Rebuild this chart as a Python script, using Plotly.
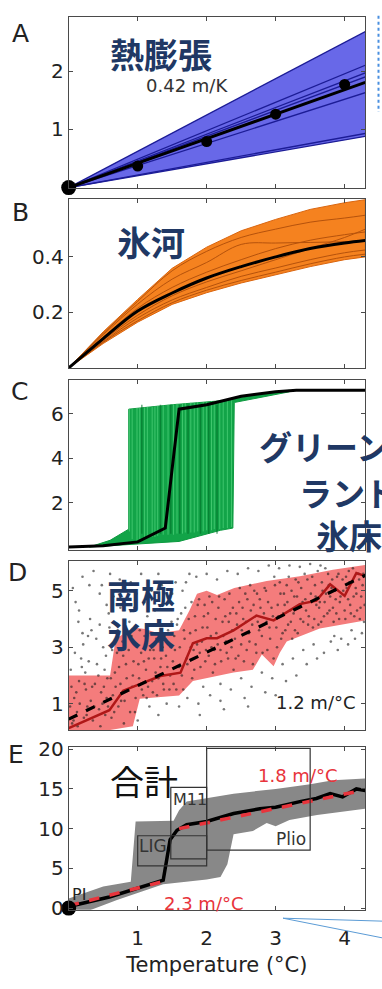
import plotly.graph_objects as go

W, H = 382, 989
NUM_FONT = "DejaVu Sans, Liberation Sans, Arial, sans-serif"
CJK_FONT = "Noto Sans CJK JP, sans-serif"
NAVY = "#203864"

# ---------------- data ----------------
temp_ticks = [1, 2, 3, 4]
x_end = 4.3

# A: thermal expansion
thermal_band_upper = [0.0, 2.68]
thermal_band_lower = [0.0, 0.88]
thermal_band_x = [0.0, 4.3]
thermal_member_end = [2.68, 2.10, 1.97, 1.90, 1.63, 0.93, 0.88]
thermal_mean_x = [0.0, 4.3]
thermal_mean_y = [0.0, 1.806]
thermal_dot_x = [1, 2, 3, 4]
thermal_dot_y = [0.37, 0.79, 1.26, 1.77]

# B: glaciers
glac_x = [0, 0.5, 1.0, 1.5, 2.0, 2.5, 3.0, 3.5, 4.0, 4.3]
glac_upper = [0, 0.13, 0.247, 0.359, 0.435, 0.494, 0.535, 0.571, 0.595, 0.606]
glac_lower = [0, 0.088, 0.165, 0.229, 0.271, 0.306, 0.335, 0.365, 0.39, 0.40]
glac_mean = [0, 0.106, 0.205, 0.27, 0.324, 0.365, 0.40, 0.43, 0.45, 0.459]
glac_m1 = [0, 0.125, 0.24, 0.35, 0.42, 0.47, 0.50, 0.525, 0.54, 0.55]
glac_m2 = [0, 0.12, 0.23, 0.32, 0.38, 0.445, 0.45, 0.452, 0.455, 0.457]
glac_m3 = [0, 0.10, 0.19, 0.26, 0.31, 0.35, 0.39, 0.43, 0.47, 0.50]
glac_m4 = [0, 0.095, 0.18, 0.245, 0.29, 0.33, 0.36, 0.39, 0.415, 0.425]
glac_m5 = [0, 0.11, 0.215, 0.29, 0.345, 0.39, 0.43, 0.46, 0.48, 0.49]
glac_m6 = [0, 0.092, 0.17, 0.235, 0.28, 0.315, 0.345, 0.375, 0.40, 0.41]

# C: Greenland
gis_env_x = [0.30, 0.60, 0.87, 0.87, 1.50, 2.30, 2.80, 3.20, 3.20, 2.40, 2.38, 2.20, 1.60, 1.00, 0.30]
gis_env_y = [0.00, 0.30, 0.80, 6.20, 6.40, 6.60, 6.90, 7.05, 6.98, 6.50, 0.85, 0.75, 0.25, 0.12, 0.00]
gis_jump_t = [0.88, 0.92, 0.99, 1.03, 1.10, 1.14, 1.21, 1.25, 1.29, 1.37, 1.44, 1.52, 1.57,
              1.65, 1.69, 1.77, 1.82, 1.87, 1.95, 2.00, 2.07, 2.11, 2.19, 2.24, 2.30, 2.36]
gis_jump_lo = [0.70, 0.35, 0.30, 0.35, 0.40, 0.40, 0.45, 0.45, 0.50, 0.55, 0.55, 0.55, 0.60,
               0.60, 0.65, 0.65, 0.65, 0.70, 0.70, 0.75, 0.75, 0.80, 0.80, 0.85, 0.85, 0.90]
gis_jump_hi = [6.20, 6.22, 6.25, 6.25, 6.28, 6.30, 6.30, 6.33, 6.35, 6.38, 6.40, 6.42, 6.45,
               6.45, 6.48, 6.50, 6.50, 6.52, 6.52, 6.55, 6.55, 6.55, 6.58, 6.58, 6.60, 6.60]
gis_dark_t = [1.06, 1.33, 1.48, 1.61, 1.73, 1.91, 2.03, 2.15]
gis_mean_x = [0, 0.5, 1.0, 1.4, 1.6, 2.0, 2.5, 3.0, 3.3, 4.3]
gis_mean_y = [0, 0.06, 0.23, 0.85, 6.2, 6.4, 6.78, 6.98, 7.05, 7.05]

# D: Antarctica
ais_upper_x = [0, 0.6, 0.68, 0.95, 1.1, 1.3, 1.6, 1.75, 1.86, 2.0, 2.15, 2.4, 2.87, 3.35, 3.83, 4.3]
ais_upper_y = [2.0, 2.0, 3.3, 3.7, 3.65, 3.5, 3.6, 4.3, 4.9, 5.0, 4.85, 5.1, 5.35, 5.52, 5.75, 5.92]
ais_lower_x = [0, 0.6, 0.93, 1.03, 1.6, 1.8, 2.39, 2.67, 2.8, 2.97, 3.06, 3.16, 3.64, 4.3]
ais_lower_y = [0.07, 0.07, 0.2, 1.17, 1.29, 1.8, 2.1, 2.2, 2.74, 2.33, 2.8, 3.2, 3.66, 3.95]
ais_mean_x = [0, 0.59, 0.79, 1.05, 1.33, 1.62, 1.8, 2.0, 2.15, 2.39, 2.72, 2.97, 3.35, 3.59, 3.79, 4.0, 4.17, 4.3]
ais_mean_y = [0.13, 0.77, 1.46, 1.7, 1.98, 2.1, 3.14, 3.32, 3.32, 3.6, 4.12, 3.95, 4.53, 4.65, 5.23, 4.82, 5.63, 5.52]
ais_fit_x = [0.0, 4.3]
ais_fit_y = [0.45, 5.55]
ais_dots_x = [
    0.05, 0.08, 0.12, 0.15, 0.18, 0.22, 0.25, 0.28, 0.10, 0.20, 0.03, 0.27, 0.14, 0.06, 0.24,
    0.32, 0.35, 0.38, 0.41, 0.44, 0.47, 0.50, 0.53, 0.56, 0.58, 0.36, 0.45, 0.52, 0.33, 0.55,
    0.62, 0.64, 0.67, 0.70, 0.72, 0.75, 0.78, 0.80, 0.83, 0.86, 0.88, 0.65, 0.74, 0.85, 0.69, 0.81,
    0.92, 0.94, 0.96, 0.99, 1.02, 1.05, 1.08, 1.10, 1.12, 1.15, 1.18, 0.95, 1.05, 1.14, 1.00, 1.17,
    1.22, 1.24, 1.27, 1.30, 1.33, 1.36, 1.38, 1.41, 1.44, 1.47, 1.25, 1.35, 1.45, 1.30, 1.42, 1.49,
    1.52, 1.54, 1.57, 1.60, 1.63, 1.66, 1.68, 1.71, 1.74, 1.77, 1.79, 1.55, 1.65, 1.75, 1.60, 1.72,
    1.82, 1.84, 1.87, 1.90, 1.93, 1.96, 1.98, 2.01, 2.04, 2.07, 2.09, 1.85, 2.00, 1.95, 2.05, 1.88,
    2.12, 2.14, 2.17, 2.20, 2.23, 2.26, 2.28, 2.31, 2.34, 2.37, 2.39, 2.15, 2.30, 2.20, 2.35, 2.25,
    2.42, 2.44, 2.47, 2.50, 2.53, 2.56, 2.58, 2.61, 2.64, 2.67, 2.69, 2.45, 2.60, 2.50, 2.65, 2.55,
    2.72, 2.74, 2.77, 2.80, 2.83, 2.86, 2.88, 2.91, 2.94, 2.97, 2.99, 2.75, 2.90, 2.80, 2.95, 2.85,
    3.02, 3.04, 3.07, 3.10, 3.13, 3.16, 3.18, 3.21, 3.24, 3.27, 3.29, 3.05, 3.20, 3.10, 3.25, 3.15,
    3.32, 3.34, 3.37, 3.40, 3.43, 3.46, 3.48, 3.51, 3.54, 3.57, 3.59, 3.35, 3.50, 3.40, 3.55, 3.45,
    3.62, 3.64, 3.67, 3.70, 3.73, 3.76, 3.78, 3.81, 3.84, 3.87, 3.89, 3.65, 3.80, 3.70, 3.85,
    3.92, 3.94, 3.97, 4.00, 4.03, 4.06, 4.08, 4.11, 4.14, 4.17, 4.20, 4.23, 4.26, 4.28, 3.95, 4.10, 4.25,
    0.02, 0.04, 0.07, 0.09, 0.11, 0.13, 0.16, 0.19, 0.21, 0.23, 0.26, 0.29, 0.31, 0.34, 0.37, 0.40, 0.43, 0.46, 0.48, 0.49,
    0.51, 0.54, 0.57, 0.59, 0.61, 0.63, 0.66, 0.68, 0.71, 0.73, 0.76, 0.79, 0.82, 0.84, 0.87, 0.89, 0.91, 0.93, 0.97, 0.98,
    1.01, 1.03, 1.06, 1.09, 1.11, 1.13, 1.16, 1.19, 1.21, 1.23, 1.26, 1.28, 1.31, 1.34, 1.37, 1.39, 1.43, 1.46, 1.48, 1.20,
    1.51, 1.53, 1.56, 1.58, 1.61, 1.64, 1.67, 1.69, 1.72, 1.76, 1.78, 1.81, 1.83, 1.86, 1.89, 1.91, 1.94, 1.97, 1.99, 1.70,
    2.02, 2.03, 2.06, 2.08, 2.11, 2.13, 2.16, 2.18, 2.21, 2.24, 2.27, 2.29, 2.32, 2.33, 2.36, 2.38, 2.41, 2.43, 2.46, 2.48,
    2.51, 2.52, 2.54, 2.57, 2.59, 2.62, 2.63, 2.66, 2.68, 2.71, 2.73, 2.76, 2.78, 2.81, 2.84, 2.87, 2.89, 2.92, 2.96, 2.98,
    3.01, 3.03, 3.06, 3.08, 3.11, 3.12, 3.14, 3.17, 3.19, 3.22, 3.23, 3.26, 3.28, 3.31, 3.33, 3.36, 3.39, 3.42, 3.44, 3.47,
    3.52, 3.53, 3.56, 3.58, 3.61, 3.63, 3.66, 3.68, 3.71, 3.72, 3.75, 3.77, 3.79, 3.82, 3.83, 3.86, 3.88, 3.91, 3.93, 3.98,
    4.01, 4.02, 4.05, 4.07, 4.09, 4.12, 4.13, 4.16, 4.18, 4.21, 4.22, 4.24, 4.27, 4.29, 4.15, 4.05,
    2.60, 3.00, 3.30, 3.60, 3.90, 2.20, 1.90,
    0.15, 0.30, 0.45, 0.60, 0.75, 0.90, 1.10, 1.30, 1.50, 0.20, 0.55,
]
ais_dots_y = [
    0.3, 1.2, 0.7, 1.8, 2.6, 0.5, 1.5, 3.4, 4.6, 5.5, 2.2, 0.9, 3.9, 5.1, 2.1,
    1.1, 0.4, 1.7, 2.4, 0.8, 1.4, 3.0, 0.6, 1.9, 4.2, 5.7, 4.9, 2.2, 3.6, 1.2,
    0.5, 1.3, 2.1, 2.8, 0.9, 1.7, 3.2, 0.3, 2.4, 1.5, 3.9, 4.8, 5.4, 5.0, 3.5, 1.1,
    1.6, 2.5, 0.7, 3.1, 1.9, 2.8, 1.3, 3.4, 2.2, 1.6, 2.9, 4.4, 5.6, 4.1, 0.4, 0.9,
    1.4, 2.6, 3.3, 1.9, 2.3, 3.0, 1.5, 2.7, 3.6, 2.0, 4.3, 5.2, 4.6, 0.6, 1.0, 3.9,
    1.7, 2.9, 3.8, 2.3, 4.2, 1.5, 3.3, 2.6, 4.0, 3.0, 1.9, 5.3, 5.0, 5.6, 0.9, 1.2,
    2.2, 3.6, 4.5, 2.8, 3.2, 4.1, 2.5, 3.7, 4.8, 3.0, 2.1, 5.5, 5.6, 1.6, 1.3, 1.0,
    2.4, 3.5, 4.4, 2.9, 3.9, 4.7, 3.2, 2.6, 4.2, 3.6, 2.2, 5.4, 5.7, 1.7, 1.5, 0.8,
    2.6, 3.8, 4.6, 3.1, 4.0, 4.9, 2.9, 3.5, 4.3, 2.4, 5.0, 5.6, 5.8, 1.9, 1.6, 1.2,
    2.8, 3.9, 4.7, 3.4, 4.2, 5.0, 2.9, 3.7, 4.4, 2.6, 5.2, 5.7, 5.9, 2.1, 1.9, 1.4,
    3.0, 4.1, 4.9, 3.5, 4.5, 5.2, 3.8, 4.3, 3.3, 4.8, 5.4, 5.8, 5.9, 2.4, 2.6, 1.8,
    3.5, 4.4, 5.1, 3.9, 4.7, 5.4, 4.1, 4.9, 3.7, 5.2, 4.5, 5.85, 5.95, 2.9, 3.1, 2.4,
    3.8, 4.6, 5.3, 4.1, 4.9, 5.6, 4.3, 5.1, 3.9, 4.7, 5.5, 5.9, 3.2, 2.8, 3.4,
    4.0, 4.8, 5.4, 4.3, 5.1, 5.7, 4.5, 5.3, 4.1, 4.9, 5.6, 4.4, 5.2, 3.9, 3.3, 3.6, 3.5,
    0.9, 1.6, 0.4, 2.8, 1.4, 0.2, 1.0, 2.3, 3.1, 1.7, 0.6, 2.5, 4.0, 1.6, 0.9, 3.3, 2.0, 0.2, 5.2, 1.0,
    1.6, 2.7, 0.9, 3.7, 1.9, 2.9, 0.7, 1.6, 3.6, 2.3, 1.1, 2.7, 3.5, 1.9, 2.9, 0.7, 3.4, 2.0, 1.2, 4.9,
    2.4, 3.6, 1.5, 2.5, 3.1, 1.2, 2.6, 3.5, 1.8, 2.9, 2.1, 1.3, 3.2, 2.6, 1.7, 3.4, 2.3, 1.5, 3.0, 5.0,
    2.5, 3.4, 1.5, 4.0, 3.0, 2.0, 3.6, 4.4, 2.4, 3.5, 4.6, 2.9, 4.1, 3.1, 4.7, 2.3, 3.7, 4.5, 2.9, 5.3,
    4.2, 2.7, 3.4, 4.6, 2.9, 4.0, 3.1, 4.8, 2.5, 3.4, 4.1, 2.8, 3.9, 4.9, 3.0, 4.4, 3.3, 4.2, 2.7, 5.1,
    3.6, 4.4, 2.5, 3.9, 4.7, 3.2, 5.2, 3.8, 4.5, 3.1, 4.9, 3.6, 4.4, 2.8, 5.1, 3.9, 4.6, 3.3, 4.1, 5.5,
    3.7, 4.5, 5.3, 3.3, 4.2, 4.9, 3.6, 4.6, 5.5, 3.9, 5.0, 4.2, 3.6, 4.8, 5.3, 4.0, 4.6, 5.6, 4.3, 3.8,
    4.6, 5.5, 4.0, 4.8, 5.7, 4.4, 3.9, 5.0, 4.6, 5.8, 4.2, 5.2, 4.8, 5.4, 4.4, 5.0, 4.2, 5.6, 4.6, 5.0,
    4.0, 5.5, 4.7, 5.3, 4.2, 5.8, 4.8, 5.1, 4.3, 5.4, 4.0, 4.8, 5.6, 4.5, 3.3, 3.1,
    0.9, 1.3, 2.0, 2.6, 2.9, 1.1, 0.6,
    4.3, 5.2, 3.8, 5.6, 4.4, 5.3, 4.6, 5.6, 4.9, 3.5, 4.5,
]

# E: total
sum_upper_x = [0, 0.5, 0.9, 0.97, 1.52, 1.6, 1.71, 2.0, 2.39, 3.0, 3.5, 3.83, 4.3]
sum_upper_y = [1.2, 2.7, 3.3, 10.9, 11.0, 12.3, 13.4, 13.8, 14.4, 15.0, 15.6, 16.1, 16.3]
sum_lower_x = [4.3, 3.6, 3.2, 3.0, 2.87, 2.67, 2.39, 2.3, 2.2, 2.0, 1.37, 0.7, 0.3, 0]
sum_lower_y = [12.5, 11.7, 11.1, 10.3, 10.7, 9.7, 9.3, 5.5, 3.9, 3.6, 3.0, 1.0, -0.3, -0.3]
sum_mean_x = [0, 0.59, 1.37, 1.47, 1.57, 1.71, 2.0, 2.39, 2.77, 3.0, 3.35, 3.59, 3.79, 3.97, 4.17, 4.3]
sum_mean_y = [0.2, 1.4, 3.5, 8.6, 9.8, 10.5, 10.9, 11.9, 12.5, 12.7, 13.4, 13.8, 14.4, 14.0, 15.0, 14.8]
sum_fit1_x = [0.0, 1.35]
sum_fit1_y = [0.3, 3.3]
sum_fit2_x = [1.6, 4.25]
sum_fit2_y = [10.0, 14.8]
box_names = ["M11", "LIG", "Plio"]
box_x0 = [1.48, 1.0, 2.0]
box_x1 = [2.0, 2.0, 3.5]
box_y0 = [6.2, 5.3, 7.3]
box_y1 = [15.2, 9.1, 20.1]

# ---------------- layout helpers ----------------
def px(x):
    return x / W

def py(y):
    return 1 - y / H

xdom = [px(68.7), px(365)]
panels = [
    # (top px, bottom px, y-range, tickvals, ticktext)
    (8.3, 182.7, [-0.01, 2.926], [1, 2], ["1", "2"]),
    (193.3, 366.0, [0, 0.61], [0.2, 0.4], ["0.2", "0.4"]),
    (378.3, 551.7, [-0.14, 7.51], [2, 4, 6], ["2", "4", "6"]),
    (563.3, 735.0, [0.07, 6.04], [1, 3, 5], ["1", "3", "5"]),
    (752.0, 918.3, [-0.2, 20.33], [0, 5, 10, 15, 20], ["0", "5", "10", "15", "20"]),
]

fig = go.Figure()
layout = dict(
    width=W, height=H, margin=dict(l=0, r=0, t=0, b=0),
    paper_bgcolor="white", plot_bgcolor="white", showlegend=False,
)
frame = "#4a4a4a"
for i, (top, bot, yr, tv, tt) in enumerate(panels, start=1):
    sfx = "" if i == 1 else str(i)
    layout["xaxis" + sfx] = dict(
        domain=xdom, range=[0, 4.295], anchor="y" + sfx,
        showline=True, linecolor=frame, linewidth=1, mirror="ticks",
        ticks="inside", ticklen=4, tickcolor=frame, tickvals=temp_ticks,
        ticktext=[str(t) for t in temp_ticks],
        showticklabels=(i == 5), showgrid=False, zeroline=False,
        tickfont=dict(family=NUM_FONT, size=20, color="#222"), fixedrange=True,
    )
    layout["yaxis" + sfx] = dict(
        domain=[py(bot), py(top)], range=yr, anchor="x" + sfx,
        showline=True, linecolor=frame, linewidth=1, mirror="ticks",
        ticks="inside", ticklen=4, tickcolor=frame, tickvals=tv, ticktext=tt,
        showgrid=False, zeroline=False,
        tickfont=dict(family=NUM_FONT, size=20, color="#222"), fixedrange=True,
    )

layout["xaxis5"]["ticklabelstandoff"] = 10
layout["xaxis5"]["title"] = dict(text="Temperature (°C)", font=dict(family=NUM_FONT, size=21, color="#222"), standoff=8)


def tr(**kw):
    fig.add_trace(go.Scatter(hoverinfo="skip", **kw))

# ---- Panel A ----
tr(x=thermal_band_x + thermal_band_x[::-1], y=thermal_band_upper + thermal_band_lower[::-1],
   fill="toself", fillcolor="#6868E8", line=dict(width=0), mode="lines", xaxis="x", yaxis="y")
for e in thermal_member_end:
    tr(x=[0, x_end], y=[0, e], mode="lines", line=dict(color="#1c1c96", width=1.3), xaxis="x", yaxis="y")
tr(x=thermal_mean_x, y=thermal_mean_y, mode="lines", line=dict(color="black", width=3), xaxis="x", yaxis="y")
tr(x=thermal_dot_x, y=thermal_dot_y, mode="markers", marker=dict(color="black", size=11), xaxis="x", yaxis="y")
tr(x=[0], y=[0], mode="markers", marker=dict(color="black", size=15), cliponaxis=False, xaxis="x", yaxis="y")

# ---- Panel B ----
tr(x=glac_x + glac_x[::-1], y=glac_upper + glac_lower[::-1], fill="toself", fillcolor="#F5821F",
   line=dict(color="#D9650F", width=1), mode="lines", xaxis="x2", yaxis="y2")
for m in [glac_m1, glac_m2, glac_m3, glac_m4, glac_m5, glac_m6]:
    tr(x=glac_x, y=m, mode="lines", line=dict(color="#B5520C", width=1, shape="spline"), xaxis="x2", yaxis="y2")
tr(x=glac_x, y=glac_mean, mode="lines", line=dict(color="black", width=3, shape="spline"), xaxis="x2", yaxis="y2")

# ---- Panel C ----
tr(x=gis_env_x, y=gis_env_y, fill="toself", fillcolor="#12A448", line=dict(color="#0E9A40", width=1),
   mode="lines", xaxis="x3", yaxis="y3")
vx, vy = [], []
for t, lo, hi in zip(gis_jump_t, gis_jump_lo, gis_jump_hi):
    vx += [t, t, None]
    vy += [lo, hi, None]
tr(x=vx, y=vy, mode="lines", line=dict(color="rgba(100,225,140,0.55)", width=1), xaxis="x3", yaxis="y3")
dx, dy = [], []
for t in gis_dark_t:
    dx += [t, t, None]
    dy += [0.6, 6.4, None]
tr(x=dx, y=dy, mode="lines", line=dict(color="rgba(0,110,40,0.6)", width=1.5), xaxis="x3", yaxis="y3")
tr(x=gis_mean_x, y=gis_mean_y, mode="lines", line=dict(color="black", width=3), xaxis="x3", yaxis="y3")

# ---- Panel D ----
tr(x=ais_upper_x + ais_lower_x[::-1], y=ais_upper_y + ais_lower_y[::-1], fill="toself",
   fillcolor="#F47C7C", line=dict(width=0), mode="lines", xaxis="x4", yaxis="y4")
tr(x=ais_dots_x, y=ais_dots_y, mode="markers", marker=dict(color="rgba(30,30,30,0.6)", size=2.6),
   xaxis="x4", yaxis="y4")
tr(x=ais_mean_x, y=ais_mean_y, mode="lines", line=dict(color="#B01818", width=2.5), xaxis="x4", yaxis="y4")
tr(x=ais_fit_x, y=ais_fit_y, mode="lines", line=dict(color="black", width=3.2, dash="dash"), xaxis="x4", yaxis="y4")

# ---- Panel E ----
tr(x=sum_upper_x + sum_lower_x, y=sum_upper_y + sum_lower_y, fill="toself", fillcolor="#888888",
   line=dict(width=0), mode="lines", xaxis="x5", yaxis="y5")
tr(x=sum_mean_x, y=sum_mean_y, mode="lines", line=dict(color="black", width=3.5), xaxis="x5", yaxis="y5")
tr(x=sum_fit1_x, y=sum_fit1_y, mode="lines", line=dict(color="#E8343C", width=3.5, dash="dash"), xaxis="x5", yaxis="y5")
tr(x=sum_fit2_x, y=sum_fit2_y, mode="lines", line=dict(color="#E8343C", width=3.5, dash="dash"), xaxis="x5", yaxis="y5")
tr(x=[0], y=[0], mode="markers", marker=dict(color="black", size=15), cliponaxis=False, xaxis="x5", yaxis="y5")

shapes = []
for x0, x1, y0, y1 in zip(box_x0, box_x1, box_y0, box_y1):
    shapes.append(dict(type="rect", xref="x5", yref="y5", x0=x0, x1=x1, y0=y0, y1=y1,
                       line=dict(color="#333", width=1.2), layer="above"))
# slide decorations
shapes.append(dict(type="line", xref="paper", yref="paper", x0=px(283), y0=py(927), x1=px(382), y1=py(930),
                   line=dict(color="#5B9BD5", width=1)))
shapes.append(dict(type="line", xref="paper", yref="paper", x0=px(283), y0=py(927), x1=px(382), y1=py(947),
                   line=dict(color="#5B9BD5", width=1)))
shapes.append(dict(type="line", xref="paper", yref="paper", x0=px(378.5), y0=py(7), x1=px(378.5), y1=py(105),
                   line=dict(color="#4A8FE0", width=2, dash="dot")))
layout["shapes"] = shapes

ann = []

def text(x, y, s, size, color="#222", family=NUM_FONT, xanchor="left"):
    ann.append(dict(x=px(x), y=py(y), xref="paper", yref="paper", text=s, showarrow=False,
                    xanchor=xanchor, yanchor="middle", font=dict(family=family, size=size, color=color)))

# panel letters
for s, (x, y) in zip("ABCDE", [(20, 25), (20, 207), (19, 390), (17, 575), (16, 760)]):
    text(x, y, s, 25, "#222", xanchor="center")

text(108, 45, "<b>熱膨張</b>", 34, NAVY, CJK_FONT)
text(144, 78, "0.42 m/K", 18, "#333")
text(115, 237, "<b>氷河</b>", 34, NAVY, CJK_FONT)
text(257, 446, "<b>グリーン</b>", 33, NAVY, CJK_FONT)
text(297, 492, "<b>ランド</b>", 33, NAVY, CJK_FONT)
text(314, 536, "<b>氷床</b>", 33, NAVY, CJK_FONT)
text(105, 597, "<b>南極</b>", 34, NAVY, CJK_FONT)
text(105, 637, "<b>氷床</b>", 34, NAVY, CJK_FONT)
text(274, 707, "1.2 m/°C", 18, "#222")
text(108, 787, "合計", 34, "#111", CJK_FONT)
text(256, 782, "1.8 m/°C", 18, "#E8343C")
text(162, 912, "2.3 m/°C", 18, "#E8343C")
text(171, 806, "M11", 16, "#333")
text(137, 853, "LIG", 17, "#333")
text(274, 846, "Plio", 17, "#333")
text(70, 903, "PI", 16, "#222")
layout["annotations"] = ann

fig.update_layout(**layout)
fig.write_html("out.html", config={"displayModeBar": False},
               post_script="document.body.style.margin='0px';document.body.style.overflow='hidden';")
